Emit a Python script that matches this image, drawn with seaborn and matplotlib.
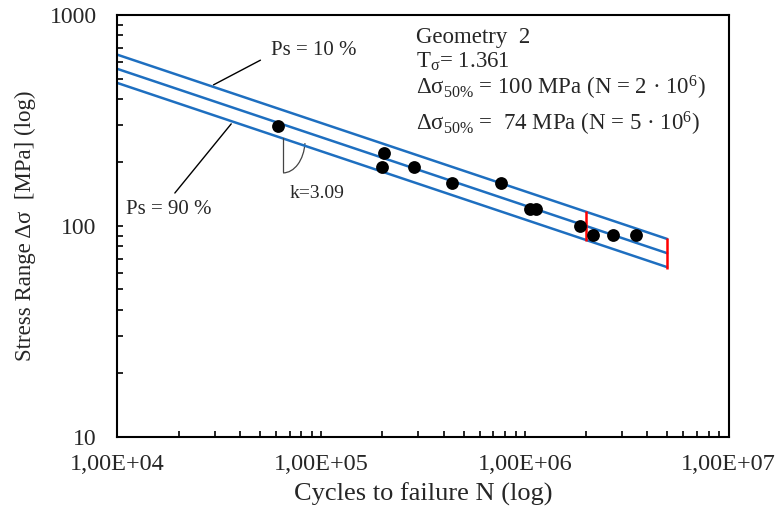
import numpy as np
import pandas as pd
import matplotlib
matplotlib.use("Agg")
import matplotlib.pyplot as plt
from matplotlib.patches import Arc
from matplotlib.ticker import FixedLocator, LogLocator, NullFormatter
import seaborn as sns

# test results
n_test = [6.14e4, 2.03e5, 1.98e5, 2.86e5, 4.38e5, 7.64e5, 1.06e6, 1.13e6, 1.86e6, 2.17e6, 2.72e6, 3.50e6]
s_test = [298, 221, 191, 191, 160, 160, 121, 121, 100, 91, 91, 91]

# S-N curves for Ps = 10 / 50 / 90 %, end points
n_curve = [1e4, 5e6]
s_p10 = [648, 86.8]
s_p50 = [555, 74.3]
s_p90 = [476, 63.8]

# red marks at N = 2e6 and N = 5e6
n_marks = [2e6, 5e6]
s_mark_lo = [84.5, 62.5]
s_mark_hi = [117.5, 88.0]

x_ticks = [1e4, 1e5, 1e6, 1e7]
x_ticklabels = ['1,00E+04', '1,00E+05', '1,00E+06', '1,00E+07']
y_ticks = [10, 100, 1000]
y_ticklabels = ['10', '100', '1000']

sns.set_style("white")
plt.rcParams['font.family'] = ['Liberation Serif', 'DejaVu Serif']
plt.rcParams['mathtext.fontset'] = 'custom'
plt.rcParams['mathtext.rm'] = 'Liberation Serif'
plt.rcParams['mathtext.it'] = 'Liberation Serif:italic'

curves = pd.DataFrame({
    'N': n_curve * 3,
    'S': s_p10 + s_p50 + s_p90,
    'Ps': ['10'] * 2 + ['50'] * 2 + ['90'] * 2,
})
tests = pd.DataFrame({'N': n_test, 'S': s_test})

fig = plt.figure(figsize=(7.76, 5.15), dpi=100)
ax = fig.add_axes([0.1514, 0.1515, 0.7874, 0.8194])
ax.set_xscale('log')
ax.set_yscale('log')

blue = '#1e6fc0'
sns.lineplot(data=curves, x='N', y='S', hue='Ps', palette=[blue] * 3,
             estimator=None, sort=False, legend=False, linewidth=1.8, ax=ax)
ax.vlines(n_marks, s_mark_lo, s_mark_hi, color='#ff0000', linewidth=1.8, zorder=4)
sns.scatterplot(data=tests, x='N', y='S', color='black', s=85, edgecolor='black',
                linewidth=0, zorder=5, ax=ax)

ax.set_xlim(1e4, 1e7)
ax.set_ylim(10, 1000)

ax.xaxis.set_major_locator(FixedLocator(x_ticks))
ax.set_xticklabels(x_ticklabels)
ax.yaxis.set_major_locator(FixedLocator(y_ticks))
ax.set_yticklabels(y_ticklabels)
ax.xaxis.set_minor_locator(LogLocator(base=10, subs=np.arange(2, 10)))
ax.yaxis.set_minor_locator(LogLocator(base=10, subs=np.arange(2, 10)))
ax.xaxis.set_minor_formatter(NullFormatter())
ax.yaxis.set_minor_formatter(NullFormatter())
ax.tick_params(which='both', direction='in', length=4, width=1.2, color='black',
               bottom=True, left=True, top=False, right=False)
ax.tick_params(axis='x', which='major', labelsize=17.5, pad=12)
ax.tick_params(axis='y', which='major', labelsize=17, pad=15)

for sp in ax.spines.values():
    sp.set_color('black')
    sp.set_linewidth(1.5)

ax.set_xlabel('Cycles to failure N (log)', fontsize=19, labelpad=6)
ax.set_ylabel('Stress Range Δσ  [MPa] (log)', fontsize=16.5, labelpad=10)

# labels for the scatter band
ax.annotate('', xy=(2.88e4, 460), xycoords='data', xytext=(0.238, 0.896),
            textcoords='axes fraction', arrowprops=dict(arrowstyle='-', color='black', lw=1.0))
ax.text(0.251, 0.917, 'Ps = 10 %', transform=ax.transAxes, fontsize=15, va='center')
ax.annotate('', xy=(3.69e4, 312), xycoords='data', xytext=(0.091, 0.573),
            textcoords='axes fraction', arrowprops=dict(arrowstyle='-', color='black', lw=1.0))
ax.text(0.014, 0.538, 'Ps = 90 %', transform=ax.transAxes, fontsize=15, va='center')

# slope marker
ax.plot([6.5e4, 6.5e4], [260, 180], color='#444444', lw=0.9)
ax.add_patch(Arc((0.271, 0.704), 2 * 22 / 611, 2 * 33 / 422, transform=ax.transAxes,
                 theta1=-90, theta2=-12, color='#444444', lw=0.9))
ax.text(0.281, 0.578, 'k=3.09', transform=ax.transAxes, fontsize=14, va='center')

# info block
info = [
    ('Geometry  2', 0.934),
    (r'T$_{\mathrm{σ}}$= 1.361', 0.874),
    (r'Δσ$_{50\%}$ = 100 MPa (N = 2 · 10$^{6}$)', 0.812),
    (r'Δσ$_{50\%}$ =  74 MPa (N = 5 · 10$^{6}$)', 0.727),
]
for txt, yy in info:
    ax.text(0.4885, yy, txt, transform=ax.transAxes, fontsize=16.5, va='baseline')

fig.savefig('out.png', dpi=100, facecolor='white')
